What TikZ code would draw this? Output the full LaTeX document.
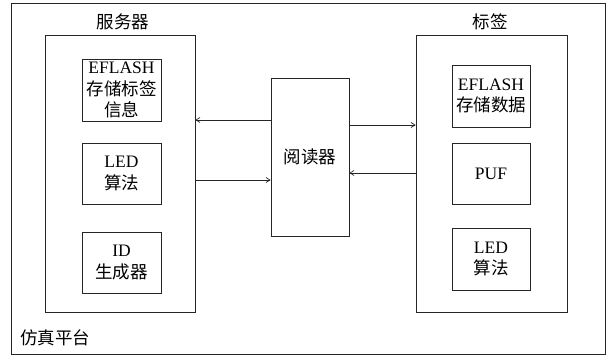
\documentclass[tikz,border=0pt]{standalone}
\usepackage{fontspec}
\setmainfont{Liberation Serif}
\newfontfamily\cjk{Noto Sans CJK SC}
\usetikzlibrary{arrows.meta}
\tikzset{
  box/.style={draw=black!85, line width=0.7pt},
  inner/.style={draw=black!85, line width=0.7pt, align=center, inner sep=0pt,
    font=\fontsize{17.5}{21.5}\selectfont},
  lbl/.style={font=\cjk\fontsize{17.5}{21.5}\selectfont, inner sep=0pt},
  conn/.style={draw=black!85, line width=0.7pt, -{Straight Barb[length=4pt,width=5pt]}}
}
\begin{document}
\begin{tikzpicture}[x=1pt,y=-1pt]
\useasboundingbox (0,0) rectangle (607,356);
% outer frame
\draw[box] (11,3) rectangle (605,354);
\node[lbl, anchor=west] (plat) at (20,338) {仿真平台};
% server
\node[box, minimum width=150pt, minimum height=277pt, inner sep=0pt] (server) at (120,173.5) {};
\node[lbl] (stitle) at (123,22) {服务器};
\node[inner, minimum width=79pt, minimum height=62pt] (s1) at (121.5,90) {EFLASH\\{\cjk 存储标签}\\{\cjk 信息}};
\node[inner, minimum width=79pt, minimum height=61pt] (s2) at (121.5,173.5) {LED\\{\cjk 算法}};
\node[inner, minimum width=79pt, minimum height=61pt] (s3) at (121.5,262.5) {ID\\{\cjk 生成器}};
% reader
\node[box, minimum width=78pt, minimum height=158pt, inner sep=0pt] (reader) at (310,157) {};
\node[lbl] (rlabel) at (310,157) {阅读器};
% tag
\node[box, minimum width=151pt, minimum height=277pt, inner sep=0pt] (tag) at (491.5,173.5) {};
\node[lbl] (ttitle) at (490,22) {标签};
\node[inner, minimum width=78pt, minimum height=62pt] (t1) at (491,96) {EFLASH\\{\cjk 存储数据}};
\node[inner, minimum width=78pt, minimum height=61pt] (t2) at (491,173.5) {PUF};
\node[inner, minimum width=78pt, minimum height=62pt] (t3) at (491,259) {LED\\{\cjk 算法}};
% connectors
\coordinate (a1) at (reader.west |- 0,120);
\coordinate (b1) at (server.east |- 0,120);
\draw[conn] (a1) -- (b1);
\coordinate (a2) at (server.east |- 0,180);
\coordinate (b2) at (reader.west |- 0,180);
\draw[conn] (a2) -- (b2);
\coordinate (a3) at (reader.east |- 0,125);
\coordinate (b3) at (tag.west |- 0,125);
\draw[conn] (a3) -- (b3);
\coordinate (a4) at (tag.west |- 0,173);
\coordinate (b4) at (reader.east |- 0,173);
\draw[conn] (a4) -- (b4);
\end{tikzpicture}
\end{document}
